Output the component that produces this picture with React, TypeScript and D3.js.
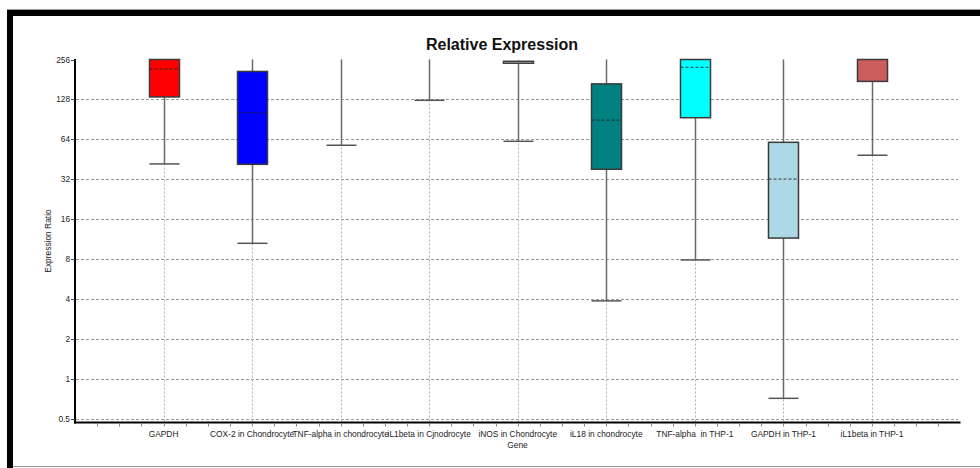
import React from "react";
import * as d3 from "d3";

const categories = [
  "GAPDH",
  "COX-2 in Chondrocyte",
  "TNF-alpha in chondrocyte",
  "iL1beta in Cjnodrocyte",
  "iNOS in Chondrocyte",
  "iL18 in chondrocyte",
  "TNF-alpha  in THP-1",
  "GAPDH in THP-1",
  "iL1beta in THP-1",
];
// values above 256 are off the top of the plot and clipped
const mins = [41.7, 10.5, 57.7, 126, 61.8, 3.86, 7.86, 0.71, 48.5];
const q1s = [133.6, 41.4, 300, 300, 240, 38, 93.1, 11.5, 175];
const medians = [216.8, 101.7, 300, 300, 244, 89.4, 223, 32, 300];
const q3s = [300, 208, 300, 300, 248, 167.6, 300, 60.7, 300];
const maxs = [320, 320, 320, 320, 248, 320, 320, 320, 320];
const boxColors = ["#ff0000", "#0000ff", "#ffffff", "#ffffff", "none", "#008080", "#00ffff", "#add8e6", "#cd5c5c"];
const yTicks = [0.5, 1, 2, 4, 8, 16, 32, 64, 128, 256];
const gridTicks = [0.5, 1, 2, 4, 8, 16, 32, 64, 128];

const FONT = "'Liberation Sans', Arial, sans-serif";

export default function App() {
  const left = 75, right = 960.5, top = 59.5, bottom = 418.5;
  const y = d3.scaleLog().base(2).domain([0.5, 256]).range([bottom, top]).clamp(true);
  const x = d3.scaleLinear().domain([0, 10]).range([left, right]);
  const boxW = 30;
  const axisY = 422.5;
  const minorTicks = d3.range(1, 40).map((i) => i * 0.25);
  const inDomain = (v: number) => v >= 0.5 && v < 256;

  return (
    <svg width={980} height={468} style={{ position: "absolute", left: 0, top: 0, display: "block", background: "#fff" }}>
      {/* frame */}
      <line x1={7} x2={980} y1={9.5} y2={9.5} stroke="#999" strokeWidth={1} />
      <rect x={7} y={10} width={973} height={6} fill="#000" />
      <rect x={7} y={10} width={6} height={458} fill="#000" />
      <line x1={13} x2={980} y1={466.5} y2={466.5} stroke="#999" strokeWidth={1} />

      {/* title */}
      <text x={502} y={50} textAnchor="middle" fontFamily={FONT} fontWeight="bold" fontSize={16} fill="#111">
        Relative Expression
      </text>

      {/* horizontal grid */}
      {gridTicks.map((t) => (
        <line key={"g" + t} x1={left + 1} x2={958} y1={Math.round(y(t)) + 0.5} y2={Math.round(y(t)) + 0.5}
          stroke="#999" strokeWidth={1} strokeDasharray="3,2" />
      ))}
      {/* vertical grid */}
      {categories.map((c, i) => (
        <line key={"v" + i} x1={Math.round(x(i + 1)) + 0.5} x2={Math.round(x(i + 1)) + 0.5} y1={top} y2={axisY}
          stroke="#b0b0b0" strokeWidth={1} strokeDasharray="2,2" />
      ))}

      {/* boxes */}
      {categories.map((c, i) => {
        const cx = Math.round(x(i + 1)) + 0.5;
        const yMin = y(mins[i]);
        const yMax = y(maxs[i]);
        const yQ1 = y(q1s[i]);
        const yQ3 = y(q3s[i]);
        const yMed = y(medians[i]);
        const hasBox = yQ1 - yQ3 > 0.5;
        return (
          <g key={"b" + i}>
            <line x1={cx} x2={cx} y1={yMax} y2={yQ3} stroke="#6a6a6a" strokeWidth={1.5} />
            <line x1={cx} x2={cx} y1={yQ1} y2={yMin} stroke="#6a6a6a" strokeWidth={1.5} />
            {inDomain(mins[i]) && (
              <line x1={cx - boxW / 2} x2={cx + boxW / 2} y1={yMin} y2={yMin} stroke="#555" strokeWidth={1.5} />
            )}
            {inDomain(maxs[i]) && !hasBox && (
              <line x1={cx - boxW / 2} x2={cx + boxW / 2} y1={yMax} y2={yMax} stroke="#555" strokeWidth={1.5} />
            )}
            {hasBox && (
              <rect x={cx - boxW / 2} y={yQ3} width={boxW} height={yQ1 - yQ3}
                fill={boxColors[i]} stroke="#3a3a3a" strokeWidth={1.5} />
            )}
            {hasBox && inDomain(medians[i]) && yQ1 - yQ3 > 4 && (
              <line x1={cx - boxW / 2} x2={cx + boxW / 2} y1={yMed} y2={yMed}
                stroke="#222" strokeOpacity={0.7} strokeWidth={1.2} strokeDasharray="3,2" />
            )}
          </g>
        );
      })}

      {/* y axis */}
      <line x1={left} x2={left} y1={top - 0.5} y2={axisY + 1} stroke="#000" strokeWidth={2} />
      {yTicks.map((t) => (
        <g key={"t" + t}>
          <line x1={left - 4} x2={left} y1={Math.round(y(t)) + 0.5} y2={Math.round(y(t)) + 0.5} stroke="#444" strokeWidth={1} />
          <text x={70} y={y(t) + 3} textAnchor="end" fontFamily={FONT} fontSize={8.3} fill="#222">
            {t}
          </text>
        </g>
      ))}
      <text transform={`translate(51,${241}) rotate(-90)`} textAnchor="middle" fontFamily={FONT} fontSize={8.4} fill="#222">
        Expression Ratio
      </text>

      {/* x axis */}
      <line x1={left - 1} x2={right} y1={axisY} y2={axisY} stroke="#000" strokeWidth={2} />
      {minorTicks.map((t) => (
        <line key={"m" + t} x1={Math.round(x(t)) + 0.5} x2={Math.round(x(t)) + 0.5} y1={axisY + 1} y2={axisY + 4}
          stroke="#888" strokeWidth={1} />
      ))}
      {categories.map((c, i) => (
        <text key={"l" + i} x={x(i + 1)} y={437} textAnchor="middle" fontFamily={FONT} fontSize={8.4} fill="#222"
          style={{ whiteSpace: "pre" }}>
          {c}
        </text>
      ))}
      <text x={517.5} y={448} textAnchor="middle" fontFamily={FONT} fontSize={8.4} fill="#222">
        Gene
      </text>
    </svg>
  );
}
